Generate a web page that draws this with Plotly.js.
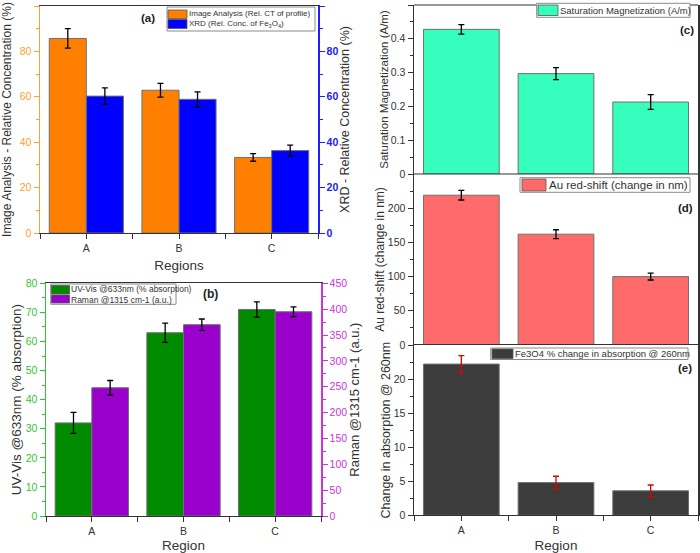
<!DOCTYPE html>
<html>
<head>
<meta charset="utf-8">
<script src="https://cdn.plot.ly/plotly-3.0.1.min.js"></script>
<style>
  html, body { margin: 0; padding: 0; background: #fff; }
  #chart { width: 700px; height: 553px; }
</style>
</head>
<body>
<div id="chart"></div>
<script>
// Regions along the sample
const regions = ['A', 'B', 'C'];

// (a) Image analysis vs XRD relative concentration (%)
const imageAnalysis = [85.7, 62.9, 33.3];
const imageAnalysisErr = [4.3, 3.0, 1.7];
const xrdConc = [60.3, 58.9, 36.3];
const xrdConcErr = [3.6, 3.3, 2.4];

// (b) UV-Vis absorption (%) and Raman intensity (a.u.)
const uvVis = [32, 63, 71];
const uvVisErr = [3.6, 3.3, 2.6];
const raman = [248, 370, 395];
const ramanErr = [14, 11, 9.5];

// (c) Saturation magnetization (A/m)
const satMag = [0.428, 0.297, 0.213];
const satMagErr = [0.014, 0.018, 0.022];

// (d) Au red-shift (nm)
const auShift = [219, 162, 100];
const auShiftErr = [7, 6.5, 5];

// (e) Fe3O4 % change in absorption @ 260nm
const feAbs = [22.2, 4.8, 3.6];
const feAbsErr = [1.25, 0.93, 0.85];

// Legend labels
const labelImage = 'Image Analysis (Rel. CT of profile)';
const labelXrd = 'XRD (Rel. Conc. of Fe<sub>3</sub>O<sub>4</sub>)';
const labelUv = 'UV-Vis @633nm (% absorption)';
const labelRaman = 'Raman @1315 cm-1 (a.u.)';
const labelSat = 'Saturation Magnetization (A/m)';
const labelAu = 'Au red-shift (change in nm)';
const labelFe = 'Fe3O4 % change in absorption @ 260nm';

const W = 700, H = 553;
const FONT = 'Liberation Sans, Arial, sans-serif';
const fx = px => px / W;
const fy = py => 1 - py / H;

const xIdx = regions.map((_, i) => i);

const C = {
  orange: '#FF8000', orangeAx: '#FFA033',
  blue: '#0000FF', blueAx: '#2020FF',
  green: '#008A00', greenAx: '#33C433',
  purple: '#9A00CC', purpleAx: '#CC33DD',
  mint: '#36FFBE', salmon: '#FF6B6B', dark: '#3C3C3C',
  frame: '#333333', text: '#333333'
};

const barLine = { color: '#707070', width: 1 };
function err(arr, color) {
  return { type: 'data', array: arr, visible: true, color: color || '#000', thickness: 1.3, width: 3 };
}

const traces = [
  // (a)
  { type: 'bar', name: labelImage, x: xIdx, y: imageAnalysis, xaxis: 'x', yaxis: 'y',
    width: 0.4, offset: -0.4, marker: { color: C.orange, line: barLine }, error_y: err(imageAnalysisErr) },
  { type: 'bar', name: labelXrd, x: xIdx, y: xrdConc, xaxis: 'x', yaxis: 'y2',
    width: 0.4, offset: 0, marker: { color: C.blue, line: barLine }, error_y: err(xrdConcErr) },
  // (b)
  { type: 'bar', name: labelUv, x: xIdx, y: uvVis, xaxis: 'x2', yaxis: 'y3',
    width: 0.4, offset: -0.4, marker: { color: C.green, line: barLine }, error_y: err(uvVisErr) },
  { type: 'bar', name: labelRaman, x: xIdx, y: raman, xaxis: 'x2', yaxis: 'y4',
    width: 0.4, offset: 0, marker: { color: C.purple, line: barLine }, error_y: err(ramanErr) },
  // (c)
  { type: 'bar', name: labelSat, x: xIdx, y: satMag, xaxis: 'x3', yaxis: 'y5',
    width: 0.8, marker: { color: C.mint, line: barLine }, error_y: err(satMagErr) },
  // (d)
  { type: 'bar', name: labelAu, x: xIdx, y: auShift, xaxis: 'x3', yaxis: 'y6',
    width: 0.8, marker: { color: C.salmon, line: barLine }, error_y: err(auShiftErr) },
  // (e)
  { type: 'bar', name: labelFe, x: xIdx, y: feAbs, xaxis: 'x3', yaxis: 'y7',
    width: 0.8, marker: { color: C.dark, line: barLine }, error_y: err(feAbsErr, '#E00000') }
];

function xAxis(domainPx, anchor, title) {
  return {
    domain: [fx(domainPx[0]), fx(domainPx[1])], anchor: anchor,
    range: [-0.5, 2.5], tickmode: 'array', tickvals: xIdx, ticktext: regions,
    ticks: 'outside', ticklen: 5, tickwidth: 1, tickcolor: C.frame,
    minor: { tickmode: 'linear', tick0: -0.5, dtick: 1, ticks: 'outside', ticklen: 5, tickcolor: C.frame },
    showline: true, linecolor: C.frame, linewidth: 1, mirror: true,
    showgrid: false, zeroline: false, fixedrange: true,
    tickfont: { family: FONT, size: 10.5, color: C.text },
    title: { text: title, font: { family: FONT, size: 13.5, color: C.text }, standoff: 7 }
  };
}

function yAxis(o) {
  const ax = {
    range: o.range, dtick: o.dtick, tick0: 0,
    ticks: 'outside', ticklen: 5, tickwidth: 1, tickcolor: o.color,
    minor: { dtick: o.minor, ticks: 'outside', ticklen: 3, tickcolor: o.color },
    showline: true, linecolor: o.color, linewidth: 1.5,
    showgrid: false, zeroline: false, fixedrange: true,
    tickfont: { family: FONT, size: o.tickSize || 10.5, color: o.tickColor || o.color, weight: o.tickWeight || 'normal' },
    title: { text: o.title, font: { family: FONT, size: o.titleSize || 13, color: C.text }, standoff: o.standoff }
  };
  if (o.domain) ax.domain = [fy(o.domain[1]), fy(o.domain[0])];
  if (o.anchor) ax.anchor = o.anchor;
  if (o.side) ax.side = o.side;
  if (o.overlaying) ax.overlaying = o.overlaying;
  if (o.mirror) ax.mirror = o.mirror;
  if (o.tickvals) { ax.tickmode = 'array'; ax.tickvals = o.tickvals; }
  return ax;
}

const layout = {
  width: W, height: H,
  margin: { l: 0, r: 0, t: 0, b: 0, pad: 0 },
  paper_bgcolor: '#fff', plot_bgcolor: '#fff',
  showlegend: false, barmode: 'overlay',
  font: { family: FONT, color: C.text },

  // (a)
  xaxis: xAxis([40, 318], 'y', 'Regions'),
  yaxis: yAxis({ domain: [6, 233], anchor: 'x', range: [0, 100], dtick: 20, minor: 10,
    color: C.orangeAx, title: 'Image Analysis - Relative Concentration (%)', titleSize: 12, standoff: 9 }),
  yaxis2: yAxis({ overlaying: 'y', side: 'right', anchor: 'x', range: [0, 100], dtick: 20, minor: 10,
    color: C.blueAx, tickWeight: 'bold', title: 'XRD - Relative Concentration (%)', titleSize: 12.5, standoff: 0 }),

  // (b)
  xaxis2: xAxis([46, 321], 'y3', 'Region'),
  yaxis3: yAxis({ domain: [283.3, 516], anchor: 'x2', range: [0, 80], dtick: 10, minor: 5,
    color: C.greenAx, title: 'UV-Vis @633nm (% absorption)', titleSize: 13.5, standoff: 1 }),
  yaxis4: yAxis({ overlaying: 'y3', side: 'right', anchor: 'x2', range: [0, 450], dtick: 50, minor: 25,
    color: C.purpleAx, title: 'Raman @1315 cm-1 (a.u.)', titleSize: 13, standoff: 1 }),

  // (c), (d), (e) share one category axis
  xaxis3: xAxis([414, 698], 'y7', 'Region'),
  yaxis5: yAxis({ domain: [5, 174], anchor: 'x3', range: [0, 0.5], dtick: 0.1, minor: 0.05,
    color: C.frame, tickColor: C.text, mirror: true, title: 'Saturation Magnetization (A/m)', titleSize: 11.5, standoff: 0 }),
  yaxis6: yAxis({ domain: [174, 345], anchor: 'x3', range: [0, 250], dtick: 50, minor: 25,
    tickvals: [0, 50, 100, 150, 200],
    color: C.frame, tickColor: C.text, mirror: true, title: 'Au red-shift (change in nm)', titleSize: 12, standoff: 0 }),
  yaxis7: yAxis({ domain: [345, 515.3], anchor: 'x3', range: [0, 25], dtick: 5, minor: 2.5,
    tickvals: [0, 5, 10, 15, 20],
    color: C.frame, tickColor: C.text, mirror: true, title: 'Change in absorption @ 260nm', titleSize: 12.5, standoff: 0 }),

  shapes: [],
  annotations: []
};

// frame lines of the stacked right-hand panels
[5, 174].forEach(py => {
  layout.shapes.push({ type: 'line', xref: 'paper', yref: 'paper',
    x0: fx(414), x1: fx(698), y0: fy(py), y1: fy(py), line: { color: C.frame, width: 1.2 } });
});

// hand-built legend boxes with wide colour swatches; one text block per box
function legend(box, swatches, colors, labels, textX, fontSize) {
  layout.shapes.push({ type: 'rect', xref: 'paper', yref: 'paper',
    x0: fx(box[0]), y0: fy(box[1]), x1: fx(box[2]), y1: fy(box[3]),
    fillcolor: '#fff', line: { color: '#8a8a8a', width: 1 } });
  swatches.forEach((sw, i) => {
    layout.shapes.push({ type: 'rect', xref: 'paper', yref: 'paper',
      x0: fx(sw[0]), y0: fy(sw[1]), x1: fx(sw[2]), y1: fy(sw[3]),
      fillcolor: colors[i], line: { color: '#555', width: 0.8 } });
  });
  const yc = (swatches[0][1] + swatches[swatches.length - 1][3]) / 2;
  layout.annotations.push({ xref: 'paper', yref: 'paper', x: fx(textX), y: fy(yc),
    xanchor: 'left', yanchor: 'middle', align: 'left', showarrow: false, borderpad: 0,
    text: labels.join('<br>'), font: { family: FONT, size: fontSize, color: C.text } });
}

legend([167, 7, 315, 31], [[168, 10, 187, 18.5], [168, 19.5, 187, 28.5]],
  [C.orange, C.blue], [labelImage, labelXrd], 188, 8);
legend([50.7, 284, 176, 304.3], [[51.5, 285.5, 69.5, 294], [51.5, 295, 69.5, 303]],
  [C.green, C.purple], [labelUv, labelRaman], 70, 8.5);
legend([536.7, 3.3, 690, 17.3], [[538, 5, 558, 15.5]], [C.mint], [labelSat], 559, 9.5);
legend([520, 177.7, 690, 192.3], [[522, 179, 546, 191]], [C.salmon], [labelAu], 548, 11.5);
legend([490.7, 348, 688, 359.5], [[492, 349, 513, 358.5]], [C.dark], [labelFe], 514, 9.5);

// panel letters
[['(a)', 148, 18, 11.5], ['(b)', 210, 294, 12], ['(c)', 687, 29.5, 11.5],
 ['(d)', 685, 208, 11.5], ['(e)', 685, 368, 11.5]].forEach(p => {
  layout.annotations.push({ xref: 'paper', yref: 'paper', x: fx(p[1]), y: fy(p[2]),
    xanchor: 'center', yanchor: 'middle', showarrow: false, text: '<b>' + p[0] + '</b>',
    font: { family: FONT, size: p[3], color: '#222' } });
});

Plotly.newPlot('chart', traces, layout, { staticPlot: true, displayModeBar: false });
</script>
</body>
</html>
